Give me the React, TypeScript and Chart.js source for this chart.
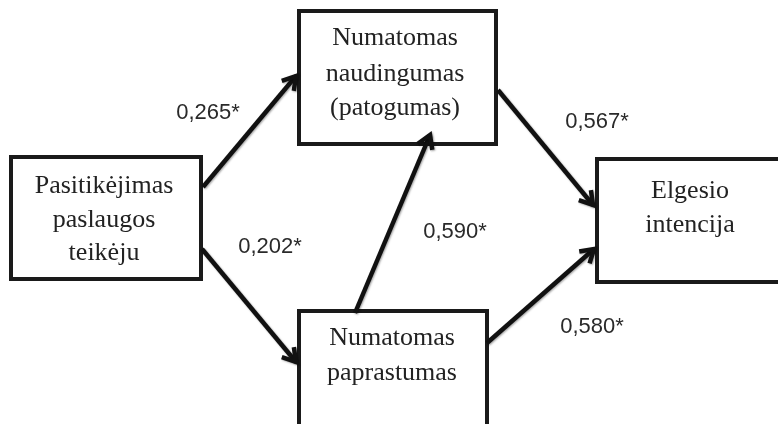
import React, { useEffect, useRef } from "react";
import { Chart, registerables } from "chart.js";

Chart.register(...registerables);

// ---- data ----
const nodeLines: string[][] = [
  ["Pasitikėjimas", "paslaugos", "teikėju"],
  ["Numatomas", "naudingumas", "(patogumas)"],
  ["Numatomas", "paprastumas"],
  ["Elgesio", "intencija"],
];
const edgeFrom = [0, 0, 2, 1, 2];
const edgeTo = [1, 2, 1, 3, 3];
const coefficients = ["0,265*", "0,202*", "0,590*", "0,567*", "0,580*"];

// ---- layout (chart units: 0..778 x, 0..424 y, y downward) ----
const boxes = [
  { x0: 11, x1: 201, y0: 157, y1: 279, cx: 104, baselines: [193, 227, 260] },
  { x0: 299, x1: 496, y0: 11, y1: 144, cx: 395, baselines: [45, 81, 115] },
  { x0: 299, x1: 487, y0: 311, y1: 440, cx: 392, baselines: [345, 380] },
  { x0: 597, x1: 800, y0: 159, y1: 282, cx: 690, baselines: [198, 232] },
];
const edgeStart = [
  [203, 187],
  [202, 249],
  [355, 313],
  [498, 90],
  [487, 343],
];
const edgeEnd = [
  [296, 76],
  [296, 362],
  [430, 135],
  [593, 205],
  [594, 249],
];
const labelPos = [
  [208, 113],
  [270, 247],
  [455, 232],
  [597, 122],
  [592, 327],
];

const diagramPlugin = {
  id: "diagram",
  beforeDatasetsDraw(chart: any) {
    const { ctx, scales } = chart;
    const sx = scales.x, sy = scales.y;
    ctx.save();
    ctx.lineWidth = 4;
    ctx.strokeStyle = "#1a1a1a";
    ctx.fillStyle = "#ffffff";
    boxes.forEach((b, i) => {
      const x0 = sx.getPixelForValue(b.x0), x1 = sx.getPixelForValue(b.x1);
      const y0 = sy.getPixelForValue(b.y0), y1 = sy.getPixelForValue(b.y1);
      ctx.fillRect(x0, y0, x1 - x0, y1 - y0);
      ctx.strokeRect(x0, y0, x1 - x0, y1 - y0);
      ctx.fillStyle = "#222222";
      ctx.font = "26px 'Liberation Serif', 'Times New Roman', serif";
      ctx.textAlign = "center";
      ctx.textBaseline = "alphabetic";
      nodeLines[i].forEach((t, j) => {
        ctx.fillText(t, sx.getPixelForValue(b.cx), sy.getPixelForValue(b.baselines[j]));
      });
      ctx.fillStyle = "#ffffff";
    });
    ctx.restore();
    ctx.save();
    ctx.shadowColor = "rgba(0,0,0,0.35)";
    ctx.shadowBlur = 2;
    ctx.shadowOffsetX = 1;
    ctx.shadowOffsetY = 1;
  },
  afterDatasetsDraw(chart: any) {
    const { ctx, scales } = chart;
    const sx = scales.x, sy = scales.y;
    ctx.lineWidth = 4.5;
    ctx.strokeStyle = "#111111";
    ctx.lineCap = "butt";
    ctx.lineJoin = "miter";
    edgeFrom.forEach((_, i) => {
      const ax = sx.getPixelForValue(edgeStart[i][0]);
      const ay = sy.getPixelForValue(edgeStart[i][1]);
      const bx = sx.getPixelForValue(edgeEnd[i][0]);
      const by = sy.getPixelForValue(edgeEnd[i][1]);
      const ang = Math.atan2(by - ay, bx - ax);
      const len = 15, spread = 0.55;
      ctx.beginPath();
      ctx.moveTo(bx - len * Math.cos(ang - spread), by - len * Math.sin(ang - spread));
      ctx.lineTo(bx, by);
      ctx.lineTo(bx - len * Math.cos(ang + spread), by - len * Math.sin(ang + spread));
      ctx.stroke();
    });
    ctx.restore();
    ctx.save();
    ctx.fillStyle = "#2a2a2a";
    ctx.font = "22px 'Liberation Sans', Arial, sans-serif";
    ctx.textAlign = "center";
    ctx.textBaseline = "middle";
    coefficients.forEach((c, i) => {
      ctx.fillText(c, sx.getPixelForValue(labelPos[i][0]), sy.getPixelForValue(labelPos[i][1]));
    });
    ctx.restore();
  },
};

export default function App() {
  const ref = useRef<HTMLCanvasElement | null>(null);
  useEffect(() => {
    document.body.style.margin = "0";
    const datasets = edgeFrom.map((f, i) => ({
      label: `${f}->${edgeTo[i]}`,
      data: [
        { x: edgeStart[i][0], y: edgeStart[i][1] },
        { x: edgeEnd[i][0], y: edgeEnd[i][1] },
      ],
      showLine: true,
      borderColor: "#111111",
      borderWidth: 4.5,
      pointRadius: 0,
      fill: false,
    }));
    const chart = new Chart(ref.current as HTMLCanvasElement, {
      type: "scatter",
      data: { datasets },
      options: {
        animation: false,
        responsive: false,
        maintainAspectRatio: false,
        layout: { padding: 0 },
        plugins: { legend: { display: false }, tooltip: { enabled: false } },
        scales: {
          x: { type: "linear", min: 0, max: 778, display: false },
          y: { type: "linear", min: 0, max: 424, reverse: true, display: false },
        },
      },
      plugins: [diagramPlugin],
    });
    return () => chart.destroy();
  }, []);
  return (
    <div style={{ position: "fixed", left: 0, top: 0, width: 778, height: 424, background: "#fff" }}>
      <canvas ref={ref} width={778} height={424} style={{ display: "block" }} />
    </div>
  );
}
